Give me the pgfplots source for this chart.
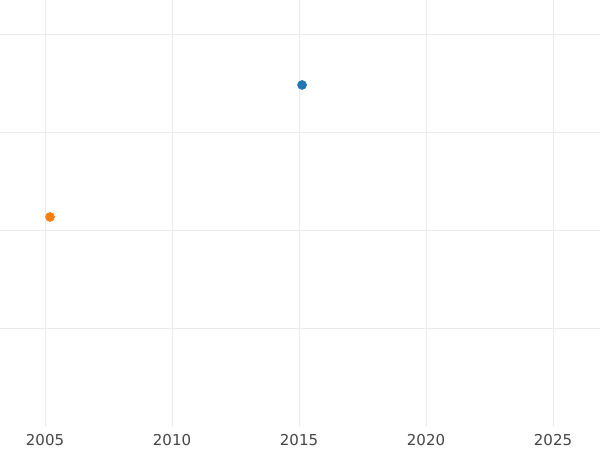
\documentclass[border=0pt]{standalone}
\usepackage{pgfplots}
\pgfplotsset{compat=1.18}
\usepackage{fontspec}
\setmainfont{DejaVu Sans}
\definecolor{gridc}{HTML}{EBEBEB}
\definecolor{tickc}{HTML}{444444}
\definecolor{c1}{HTML}{1F77B4}
\definecolor{c2}{HTML}{FF7F0E}
\begin{document}
\begin{tikzpicture}
\begin{axis}[
    scale only axis,
    width=450pt, height=319.5pt,
    xmin=2003.228, xmax=2026.85,
    ymin=0, ymax=4.347,
    xtick={2005,2010,2015,2020,2025},
    ytick={1,2,3,4},
    yticklabels={},
    grid=major,
    major grid style={color=gridc, line width=0.75pt},
    axis line style={draw=none},
    tick style={draw=none},
    /pgf/number format/assume math mode=true,
    /pgf/number format/1000 sep={},
    xticklabel style={font=\fontsize{11.25}{13}\selectfont, text=tickc, inner sep=0pt, yshift=-6pt},
    clip=false,
]
\addplot[only marks, mark=*, mark size=3.4pt, color=c1] coordinates {(2015.12,3.480)};
\addplot[only marks, mark=*, mark size=3.4pt, color=c2] coordinates {(2005.197,2.133)};
\end{axis}
\pgfresetboundingbox
\path[use as bounding box] (current axis.north west) rectangle ([yshift=-18pt]current axis.south east);
\end{tikzpicture}
\end{document}
